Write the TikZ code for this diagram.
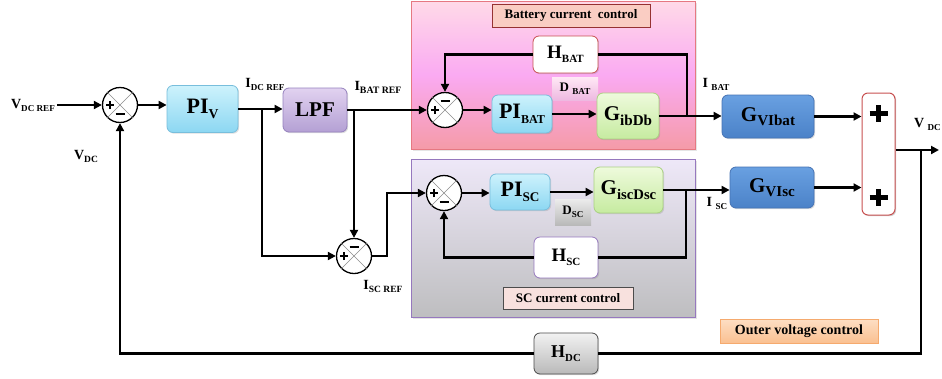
\documentclass[tikz,border=0pt]{standalone}
\usepackage{fontspec}
\setmainfont{Liberation Serif}
\usepackage{graphicx}
\usetikzlibrary{arrows.meta,shadows}

\definecolor{piTop}{RGB}{205,242,252}
\definecolor{piBot}{RGB}{140,215,242}
\definecolor{piBrd}{RGB}{120,190,220}
\definecolor{lpfTop}{RGB}{225,210,240}
\definecolor{lpfBot}{RGB}{180,160,212}
\definecolor{lpfBrd}{RGB}{150,130,190}
\definecolor{gTop}{RGB}{238,250,220}
\definecolor{gBot}{RGB}{198,235,160}
\definecolor{gBrd}{RGB}{170,210,130}
\definecolor{bTop}{RGB}{105,160,225}
\definecolor{bBot}{RGB}{75,130,200}
\definecolor{bBrd}{RGB}{70,115,180}
\definecolor{pkTop}{RGB}{255,218,232}
\definecolor{pkMid}{RGB}{250,170,242}
\definecolor{pkBot}{RGB}{245,155,168}
\definecolor{pkBrd}{RGB}{230,120,130}
\definecolor{scTop}{RGB}{238,232,248}
\definecolor{scBot}{RGB}{190,190,192}
\definecolor{scBrd}{RGB}{150,120,190}
\definecolor{redBrd}{RGB}{200,80,80}
\definecolor{batLab}{RGB}{250,205,195}
\definecolor{batLabBrd}{RGB}{150,50,50}
\definecolor{scLab}{RGB}{248,225,222}
\definecolor{hdcTop}{RGB}{242,242,242}
\definecolor{hdcBot}{RGB}{185,185,185}
\definecolor{ovTop}{RGB}{253,222,195}
\definecolor{ovBot}{RGB}{250,192,145}
\definecolor{ovBrd}{RGB}{245,170,110}
\definecolor{dbTop}{RGB}{255,232,245}
\definecolor{dbBot}{RGB}{238,185,225}
\definecolor{dsTop}{RGB}{236,236,236}
\definecolor{dsBot}{RGB}{185,185,185}

\newcommand{\fsz}[1]{\fontsize{#1}{#1}\selectfont}
\newcommand{\sbx}[2]{\raisebox{-0.22em}{\scalebox{#1}{#2}}}

\tikzset{
  blk/.style={rectangle, rounded corners=6pt, inner sep=0pt, line width=0.8pt,
    font=\bfseries,
    drop shadow={opacity=0.25,shadow xshift=1.2pt,shadow yshift=-1.2pt}},
  piblk/.style={blk, draw=piBrd, top color=piTop, bottom color=piBot},
  lpfblk/.style={blk, draw=lpfBrd, top color=lpfTop, bottom color=lpfBot},
  gblk/.style={blk, draw=gBrd, top color=gTop, bottom color=gBot},
  bblk/.style={blk, draw=bBrd, top color=bTop, bottom color=bBot},
  hblk/.style={blk, fill=white},
  hdcblk/.style={blk, draw=black!70, top color=hdcTop, bottom color=hdcBot},
  region/.style={rectangle, inner sep=0pt, line width=0.9pt,
    drop shadow={opacity=0.2,shadow xshift=1.5pt,shadow yshift=-1.5pt}},
  tag/.style={rectangle, inner sep=0pt, font=\bfseries\fsz{13}},
  sumj/.style={circle, draw, line width=1.3pt, fill=white, minimum size=35pt, inner sep=0pt},
  arr/.style={line width=2.5pt, -{Triangle[length=8pt,width=8pt]}},
  ln/.style={line width=2.5pt},
  lab/.style={font=\bfseries\fsz{14}, inner sep=0pt},
  sgn/.style={line width=2.2pt},
}

\begin{document}
\begin{tikzpicture}[x=1pt,y=-1pt]
\useasboundingbox (0,0) rectangle (942,378);
\fill[white] (0,0) rectangle (942,378);

% regions
\node[region, draw=pkBrd, top color=pkTop, bottom color=pkBot, middle color=pkMid,
  minimum width=284pt, minimum height=148pt] (batreg) at (553,75) {};
\node[region, draw=scBrd, top color=scTop, bottom color=scBot,
  minimum width=284pt, minimum height=158pt] (screg) at (553,238) {};

\node[tag, draw=batLabBrd, fill=batLab, line width=0.8pt, minimum width=158pt, minimum height=23pt]
  (batlab) at (571,15.5) {Battery current\ \ control};
\node[tag, draw=black!70, fill=scLab, line width=0.8pt, minimum width=130pt, minimum height=22pt,
  drop shadow={opacity=0.3,shadow xshift=1.2pt,shadow yshift=-1.2pt}]
  (sclab) at (568,298) {SC current\ control};
\node[tag, draw=ovBrd, top color=ovTop, bottom color=ovBot, line width=0.8pt,
  minimum width=158pt, minimum height=24pt, font=\bfseries\fsz{14},
  drop shadow={opacity=0.25,shadow xshift=1.2pt,shadow yshift=-1.2pt}]
  (outer) at (799,331) {Outer voltage control};

% blocks
\node[piblk, minimum width=71pt, minimum height=47pt, font=\bfseries\fsz{22}] (piv) at (202.5,109) {PI\sbx{0.62}{V}};
\node[lpfblk, minimum width=64pt, minimum height=44pt, font=\bfseries\fsz{21}] (lpf) at (315,110) {LPF};
\node[hblk, draw=redBrd, minimum width=65pt, minimum height=37pt, font=\bfseries\fsz{19}] (hbat) at (565.5,54.5) {H\sbx{0.58}{BAT}};
\node[tag, top color=dbTop, bottom color=dbBot, minimum width=46pt, minimum height=23pt] (dbat) at (575,88.5) {D \sbx{0.7}{BAT}};
\node[piblk, minimum width=60pt, minimum height=38pt, font=\bfseries\fsz{22}] (pibat) at (522,114) {PI\sbx{0.55}{BAT}};
\node[gblk, minimum width=62pt, minimum height=46pt, font=\bfseries\fsz{21}] (gibdb) at (628,116) {G\sbx{0.72}{ibDb}};
\node[bblk, minimum width=92pt, minimum height=43pt, font=\bfseries\fsz{21}] (gvibat) at (768,116.5) {G\sbx{0.72}{VIbat}};
\node[bblk, minimum width=84pt, minimum height=41pt, font=\bfseries\fsz{21}] (gvisc) at (772,187.5) {G\sbx{0.72}{VIsc}};
\node[blk, draw=redBrd, fill=white, line width=1pt, minimum width=33pt, minimum height=122pt,
  drop shadow={opacity=0.15,shadow xshift=1pt,shadow yshift=-1pt}] (sumbox) at (878.5,154) {};
\node[piblk, minimum width=60pt, minimum height=36pt, font=\bfseries\fsz{22}] (pisc) at (520,192) {PI\sbx{0.6}{SC}};
\node[gblk, minimum width=69pt, minimum height=46pt, font=\bfseries\fsz{21}] (giscdsc) at (628.5,190) {G\sbx{0.7}{iscDsc}};
\node[tag, top color=dsTop, bottom color=dsBot, minimum width=36pt, minimum height=26pt] (dsc) at (573,212) {D\sbx{0.7}{SC}};
\node[hblk, draw=scBrd, minimum width=64pt, minimum height=41pt, font=\bfseries\fsz{19}] (hsc) at (566,257.5) {H\sbx{0.58}{SC}};
\node[hdcblk, minimum width=64pt, minimum height=41pt, font=\bfseries\fsz{18}] (hdc) at (566,353.5) {H\sbx{0.6}{DC}};

% summing junctions
\node[sumj] (sum1) at (120,105) {};
\node[sumj] (sum2) at (445,110) {};
\node[sumj] (sum3) at (444,193) {};
\node[sumj] (sum4) at (354,256) {};
\foreach \s in {sum1,sum2,sum3,sum4}{
  \draw[black!45, line width=0.6pt] (\s.north west) -- (\s.south east) (\s.north east) -- (\s.south west);
  \draw[sgn] ([xshift=-14pt]\s.center) -- ([xshift=-6pt]\s.center)
             ([xshift=-10pt,yshift=-4pt]\s.center) -- ([xshift=-10pt,yshift=4pt]\s.center);
}
\foreach \s/\d in {sum1/-9,sum3/-9,sum2/9,sum4/9}{
  \draw[sgn] ([xshift=-4.5pt,yshift=\d pt]\s.center) -- ([xshift=4.5pt,yshift=\d pt]\s.center);
}
% plus signs of the adder
\draw[line width=5.5pt] (869.5,113.5) -- (887.5,113.5) (878.5,105) -- (878.5,122);
\draw[line width=5.5pt] (869.5,197.5) -- (887.5,197.5) (878.5,189) -- (878.5,206);

% labels
\node[lab] (vref) at (33,105) {V\sbx{0.65}{DC REF}};
\node[lab] (vdc) at (86,156) {V\sbx{0.68}{DC}};
\node[lab] (idcref) at (265,84) {I\sbx{0.65}{DC REF}};
\node[lab] (ibatref) at (378,87) {I\sbx{0.7}{BAT REF}};
\node[lab] (iscref) at (383,286) {I\sbx{0.68}{SC REF}};
\node[lab] (ibat) at (716,84) {I \sbx{0.65}{BAT}};
\node[lab] (isc) at (717,203) {I \sbx{0.65}{SC}};
\node[lab, anchor=east] (vdco) at (941,124) {V \sbx{0.65}{DC}};

% coordinates
\coordinate (j1) at (262,109);
\coordinate (j2) at (354,110);
\coordinate (k4) at (387,256);
\coordinate (jb) at (687,116);
\coordinate (js) at (686,190);
\coordinate (jv) at (921,150);
\coordinate (vout) at (939,150);

% connectors
\draw[arr] ([xshift=2pt]vref.east |- sum1.west) -- (sum1.west);
\draw[arr] (sum1.east) -- (sum1.east -| piv.west);
\draw[arr] (piv.east) -- (piv.east -| lpf.west);
\draw[arr] (lpf.east) -- (lpf.east -| sum2.west);
\draw[arr] (j1) |- (sum4.west);
\draw[arr] (j2) -- (sum4.north);
\draw[arr] (sum4.east) -- (k4) |- (sum3.west);
\draw[arr] (sum2.east) -- (sum2.east -| pibat.west);
\draw[arr] (pibat.east) -- (pibat.east -| gibdb.west);
\draw[arr] (gibdb.east) -- (gibdb.east -| gvibat.west);
\draw[ln] (jb) |- (hbat.east);
\draw[arr] (hbat.west) -| (sum2.north);
\draw[arr] (sum3.east) -- (sum3.east -| pisc.west);
\draw[arr] (pisc.east) -- (pisc.east -| giscdsc.west);
\draw[arr] (giscdsc.east) -- (giscdsc.east -| gvisc.west);
\draw[ln] (js) |- (hsc.east);
\draw[arr] (hsc.west) -| (sum3.south);
\draw[arr] (gvibat.east) -- (gvibat.east -| sumbox.west);
\draw[arr] (gvisc.east) -- (gvisc.east -| sumbox.west);
\draw[arr] (sumbox.east |- vout) -- (vout);
\draw[ln] (jv) |- (hdc.east);
\draw[arr] (hdc.west) -| (sum1.south);
\end{tikzpicture}
\end{document}
